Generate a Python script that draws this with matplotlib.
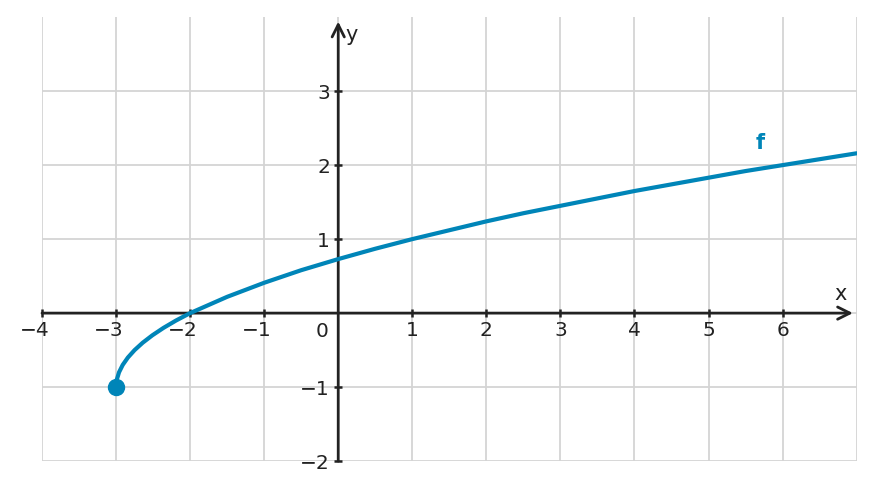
import matplotlib
matplotlib.use("Agg")
import matplotlib.pyplot as plt
from matplotlib.transforms import ScaledTranslation

# Werte
x_vals = [-3, -2.99, -2.96, -2.91, -2.84, -2.75, -2.64, -2.51, -2.36, -2.19, -2,
          -1.5, -1, -0.5, 0, 0.5, 1, 1.5, 2, 2.5, 3, 3.5, 4, 4.5, 5, 5.5, 6, 6.5, 7]
y_vals = [-1, -0.9, -0.8, -0.7, -0.6, -0.5, -0.4, -0.3, -0.2, -0.1, 0,
          0.22, 0.41, 0.58, 0.73, 0.87, 1, 1.12, 1.24, 1.35, 1.45, 1.55, 1.65,
          1.74, 1.83, 1.92, 2, 2.08, 2.16]
start_point = (-3, -1)
x_ticks = [-4, -3, -2, -1, 1, 2, 3, 4, 5, 6]
y_ticks = [-2, -1, 1, 2, 3]

blue = "#0085b8"
dark = "#222222"

fig = plt.figure(figsize=(8.75, 4.9), dpi=100)
ax = fig.add_axes([0.048, 0.059, 0.931, 0.906])
ax.set_xlim(-4, 7)
ax.set_ylim(-2, 4)

# Gitter
for gx in range(-4, 8):
    ax.axvline(gx, color="#d4d4d4", lw=1.3, zorder=0)
for gy in range(-2, 4):
    ax.axhline(gy, color="#d4d4d4", lw=1.3, zorder=0)

for s in ax.spines.values():
    s.set_visible(False)
ax.spines["left"].set_position(("data", 0))
ax.spines["bottom"].set_position(("data", 0))
ax.set_xticks(x_ticks)
ax.set_yticks(y_ticks)
ax.set_xticklabels([str(t).replace("-", "\u2212") for t in x_ticks])
ax.set_yticklabels([str(t).replace("-", "\u2212") for t in y_ticks])
ax.tick_params(axis="both", direction="inout", length=6, width=1.8,
               color=dark, labelcolor=dark, labelsize=14.5)
ax.tick_params(axis="x", pad=3)
ax.tick_params(axis="y", pad=3)

# Minuszeichen haengt links, Ziffer mittig unter dem Tick
shift = ScaledTranslation(-7 / 100, 0, fig.dpi_scale_trans)
for t, lab in zip(x_ticks, ax.get_xticklabels()):
    if t < 0:
        lab.set_transform(lab.get_transform() + shift)

# Achsen mit Pfeilen
ax.annotate("", xy=(6.95, 0), xytext=(-4, 0),
            arrowprops=dict(arrowstyle="->", color=dark, lw=2,
                            mutation_scale=22, shrinkA=0, shrinkB=0), zorder=3)
ax.annotate("", xy=(0, 3.94), xytext=(0, -2),
            arrowprops=dict(arrowstyle="->", color=dark, lw=2,
                            mutation_scale=22, shrinkA=0, shrinkB=0), zorder=3)
ax.text(6.78, 0.12, "x", fontsize=15, color=dark, ha="center", va="bottom")
ax.text(0.1, 3.76, "y", fontsize=15, color=dark, ha="left", va="center")
ax.text(-0.22, -0.12, "0", fontsize=14.5, color=dark, ha="center", va="top")

ax.plot(x_vals, y_vals, color=blue, lw=3, solid_capstyle="round", zorder=4)
ax.plot(*start_point, "o", color=blue, markersize=11.5, zorder=5)
ax.text(5.7, 2.3, "f", color=blue, fontsize=15, fontweight="bold",
        ha="center", va="center")

fig.savefig("out.png", dpi=100)
